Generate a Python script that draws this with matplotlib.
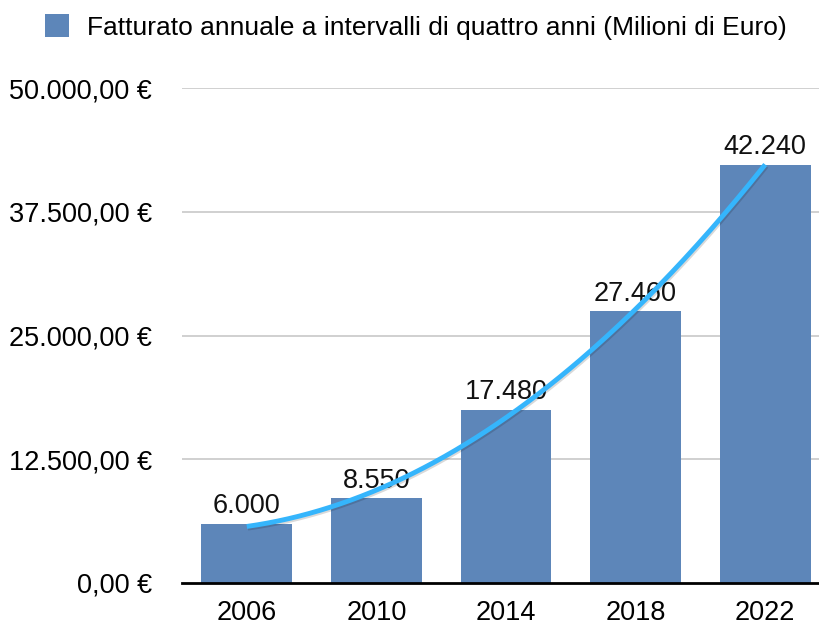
import numpy as np
import matplotlib
matplotlib.use('Agg')
from matplotlib import pyplot as plt
from matplotlib import patheffects as pe

plt.rcParams['font.family'] = ['Liberation Sans', 'DejaVu Sans']

years = ['2006', '2010', '2014', '2018', '2022']
revenue = [6000, 8550, 17480, 27460, 42240]
yticks = [0, 12500, 25000, 37500, 50000]
legend_label = 'Fatturato annuale a intervalli di quattro anni (Milioni di Euro)'

bar_color = '#5d86b9'
trend_color = '#35b5fc'


def euro(v):
    s = '{:,.2f}'.format(v)
    s = s.replace(',', 'X').replace('.', ',').replace('X', '.')
    return s + ' €'


def thousands(v):
    return '{:,}'.format(v).replace(',', '.')


fig = plt.figure(figsize=(8.2, 6.2), dpi=100)
ax = fig.add_axes([182 / 820, 37 / 620, 648 / 820, 495 / 620])

x = np.arange(len(years))
bars = ax.bar(x, revenue, width=0.70, color=bar_color, zorder=2,
              label=legend_label)

# polynomial trend line (order 2) fitted on the data
coef = np.polyfit(x, revenue, 2)
xs = np.linspace(x[0], x[-1], 200)
ax.plot(xs, np.polyval(coef, xs), color=trend_color, lw=3.5, zorder=4,
        solid_capstyle='butt',
        path_effects=[pe.SimpleLineShadow(offset=(0.8, -1.2), alpha=0.15),
                      pe.Normal()])

for xi, v in zip(x, revenue):
    ax.text(xi, v + 450, thousands(v), ha='center', va='bottom',
            fontsize=19.5, color='#111111', zorder=3)

ax.set_xlim(-0.5, 4.5)
ax.set_ylim(0, 50000)
ax.set_yticks(yticks)
ax.set_yticklabels([euro(v) for v in yticks], fontsize=19.5)
ax.set_xticks(x)
ax.set_xticklabels(years, fontsize=19.5)
ax.tick_params(length=0)
ax.tick_params(axis='y', pad=21.5)
ax.tick_params(axis='x', pad=12.5)

for yv in yticks[1:]:
    ax.axhline(yv, color='#c8c8c8', lw=1.2, zorder=1)

for side in ['left', 'right', 'top']:
    ax.spines[side].set_visible(False)
ax.spines['bottom'].set_linewidth(2)
ax.spines['bottom'].set_zorder(5)

fig.legend(handles=[bars], labels=[legend_label], loc='center left',
           bbox_to_anchor=(21 / 820, 1 - 27 / 620), frameon=False,
           fontsize=19, handlelength=0.92, handleheight=0.92,
           handletextpad=0.68)

fig.savefig('out.png', dpi=100)
